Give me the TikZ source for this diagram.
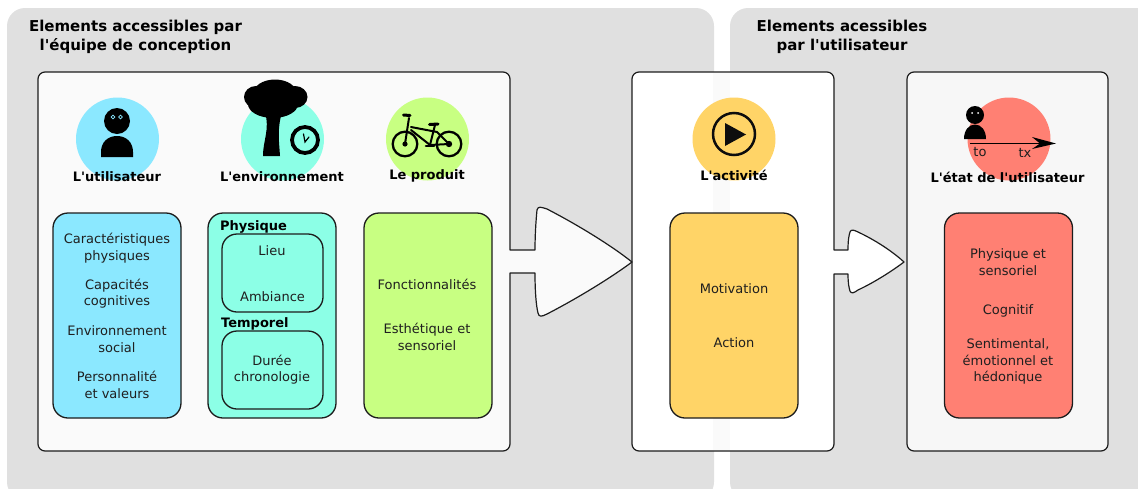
\documentclass[tikz,border=0pt]{standalone}
\usepackage{fontspec}
\setmainfont{DejaVu Sans}[Ligatures=TeXOff]
\definecolor{cpanel}{HTML}{E0E0E0}
\definecolor{cblue}{HTML}{8BE8FF}
\definecolor{cteal}{HTML}{8CFFE6}
\definecolor{cgreen}{HTML}{C8FF82}
\definecolor{corange}{HTML}{FFD467}
\definecolor{cred}{HTML}{FF8073}
\definecolor{cedge}{HTML}{1C1C1C}
\tikzset{
  zone/.style={fill=cpanel,rounded corners=18pt},
  panel/.style={draw=cedge,line width=1.2pt,line join=round},
  disc/.style={circle,inner sep=0pt,minimum size=83pt},
  bigbox/.style={draw=cedge,line width=1.3pt,rounded corners=15pt,minimum width=128pt,minimum height=205pt,inner sep=0pt},
  subbox/.style={draw=cedge,line width=1.3pt,rounded corners=15pt,minimum width=101pt,minimum height=78pt,inner sep=0pt},
  txt/.style={font=\fontsize{13}{16.4}\selectfont,align=center,inner sep=0pt,text=black!88},
  head/.style={font=\fontsize{13}{16}\selectfont\bfseries,align=center,inner sep=0pt,text=black},
  ttl/.style={font=\fontsize{15}{19}\selectfont\bfseries,align=center,inner sep=0pt,text=black},
}
\begin{document}
\begin{tikzpicture}[x=1pt,y=-1pt]
\useasboundingbox (0,0) rectangle (1138,488);
\clip (0,0) rectangle (1138,488);
% background zones
\fill[zone] (7,8) rectangle (714,500);
\fill[zone] (730,8) rectangle (1160,500);
% panels
\path[panel,fill=white] (834,250) -- (848,250)
  .. controls (848,240) and (849,235) .. (850,232)
  .. controls (851,229) and (854,230) .. (858,232)
  .. controls (875,240) and (892,251) .. (904,262)
  .. controls (892,271) and (875,282) .. (858,290)
  .. controls (854,293) and (851,294) .. (850,291)
  .. controls (849,288) and (848,283) .. (848,274) -- (834,274)
  [rounded corners=7pt] -- (834,451) -- (632,451) -- (632,72) -- (834,72) [sharp corners] -- cycle;
\fill[black!2] (713,73) rectangle (730,450);
\path[panel,fill=white!97!black,rounded corners=7pt] (907,72) rectangle (1108,451);
\path[panel,fill=white!98!black] (510,250) -- (535,250)
  .. controls (535,235) and (536,220) .. (537,210)
  .. controls (538,206) and (541,207) .. (547,209)
  .. controls (578,225) and (612,246) .. (632,262)
  .. controls (612,277) and (578,298) .. (547,314)
  .. controls (541,317) and (539,317) .. (538,313)
  .. controls (536,305) and (535,290) .. (535,273) -- (510,273)
  [rounded corners=7pt] -- (510,451) -- (38,451) -- (38,72) -- (510,72) [sharp corners] -- cycle;
% titles
\node[ttl] (t1) at (135.5,37) {Elements accessibles par\\l'équipe de conception};
\node[ttl] (t2) at (842,37) {Elements acessibles\\par l'utilisateur};
% discs
\node[disc,fill=cblue] (d1) at (117.5,139) {};
\node[disc,fill=cteal] (d2) at (282.5,139) {};
\node[disc,fill=cgreen] (d3) at (427.5,139) {};
\node[disc,fill=corange] (d4) at (734,139) {};
\node[disc,fill=cred] (d5) at (1009,139) {};
% user icon
\fill[black] (117,121) circle[radius=13pt];
\fill[black] (101,157) -- (101,152) .. controls (101,142) and (108,136) .. (117,136)
  .. controls (126,136) and (133,142) .. (133,152) -- (133,157) -- cycle;
\draw[cblue,line width=.8pt,fill=black] (113,117) circle[radius=1.9pt] (120.5,117) circle[radius=1.9pt];
% tree
\fill[black] (275,94) ellipse[x radius=22pt,y radius=14.5pt];
\fill[black] (256,97) ellipse[x radius=12pt,y radius=11pt];
\fill[black] (295,97) ellipse[x radius=12.5pt,y radius=11pt];
\fill[black] (273,104) ellipse[x radius=25pt,y radius=14pt];
\fill[black] (265,112) .. controls (270,130) and (263,140) .. (263,156) -- (280,156)
  .. controls (279,140) and (277,130) .. (282,112) -- cycle;
% clock
\draw[black,line width=3.8pt] (305,140) circle[radius=13pt];
\draw[black,line width=1.2pt,line cap=round] (303.5,134) -- (305,142) -- (309,137);
% bicycle
\begin{scope}[black,line cap=round,line join=round]
\draw[line width=2.3pt] (405,144) circle[radius=12.3pt] (449,144) circle[radius=12.3pt];
\fill (405,144) circle[radius=2.6pt] (449,144) circle[radius=3.2pt];
\draw[line width=2pt] (405,144) -- (409,118) (411,127) -- (437,132) -- (449,144) -- (430,145) -- (411,130);
\draw[line width=2pt] (435,125) -- (430,145);
\draw[line width=3pt] (403.5,115) -- (410,115.5);
\draw[line width=3pt] (429.5,124.5) -- (438,124);
\draw[line width=2.6pt] (426,146) -- (434,146);
\end{scope}
% play
\draw[black!95,line width=2.5pt] (734,134) circle[radius=21pt];
\fill[black!95] (725,123) -- (746,134.5) -- (725,146) -- cycle;
% state icon
\fill[black] (975,115) circle[radius=9pt];
\fill[black] (964,139) .. controls (964,130) and (969,124.5) .. (975,124.5)
  .. controls (981,124.5) and (986,130) .. (986,139) -- cycle;
\fill[white] (972,113) circle[radius=1pt] (978,113) circle[radius=1pt];
\coordinate (ta) at (970,143.5);
\coordinate (tb) at (1040,143.5);
\draw[black,line width=1.2pt] (ta) -- (tb);
\fill[black] (1056,143.5) -- (1032,137) -- (1040,143.5) -- (1032,149) -- cycle;
\node[txt] (to) at (980,152.5) {to};
\node[txt] (tx) at (1025,152.5) {tx};
% headings
\node[head] (h1) at (117,177) {L'utilisateur};
\node[head] (h2) at (282,177) {L'environnement};
\node[head] (h3) at (427,176) {Le produit};
\node[head] (h4) at (734,175.5) {L'activité};
\node[head] (h5) at (1007.5,177) {L'état de l'utilisateur};
% boxes
\node[bigbox,fill=cblue] (b1) at (117,315.5) {};
\node[bigbox,fill=cteal] (b2) at (272,315.5) {};
\node[bigbox,fill=cgreen] (b3) at (428,315.5) {};
\node[bigbox,fill=corange] (b4) at (734,315.5) {};
\node[bigbox,fill=cred] (b5) at (1008.5,315.5) {};
\node[subbox] (s1) at (272.5,273) {};
\node[subbox] (s2) at (272.5,370) {};
% texts
\node[txt] (a1) at (117,248) {Caractéristiques\\physiques};
\node[txt] (a2) at (117,293.5) {Capacités\\cognitives};
\node[txt] (a3) at (117,339) {Environnement\\social};
\node[txt] (a4) at (117,385) {Personnalité\\et valeurs};
\node[head,anchor=west] (p1) at (220,227) {Physique};
\node[head,anchor=west] (p2) at (221,324) {Temporel};
\node[txt] (e1) at (272,251) {Lieu};
\node[txt] (e2) at (272.5,297) {Ambiance};
\node[txt] (e3) at (272,369.5) {Durée\\chronologie};
\node[txt] (f1) at (427,284) {Fonctionnalités};
\node[txt] (f2) at (427,337) {Esthétique et\\sensoriel};
\node[txt] (g1) at (734,289) {Motivation};
\node[txt] (g2) at (734,343) {Action};
\node[txt] (r1) at (1008,262) {Physique et\\sensoriel};
\node[txt] (r2) at (1008,311) {Cognitif};
\node[txt] (r3) at (1008,361.5) {Sentimental,\\émotionnel et\\hédonique};
\end{tikzpicture}
\end{document}
